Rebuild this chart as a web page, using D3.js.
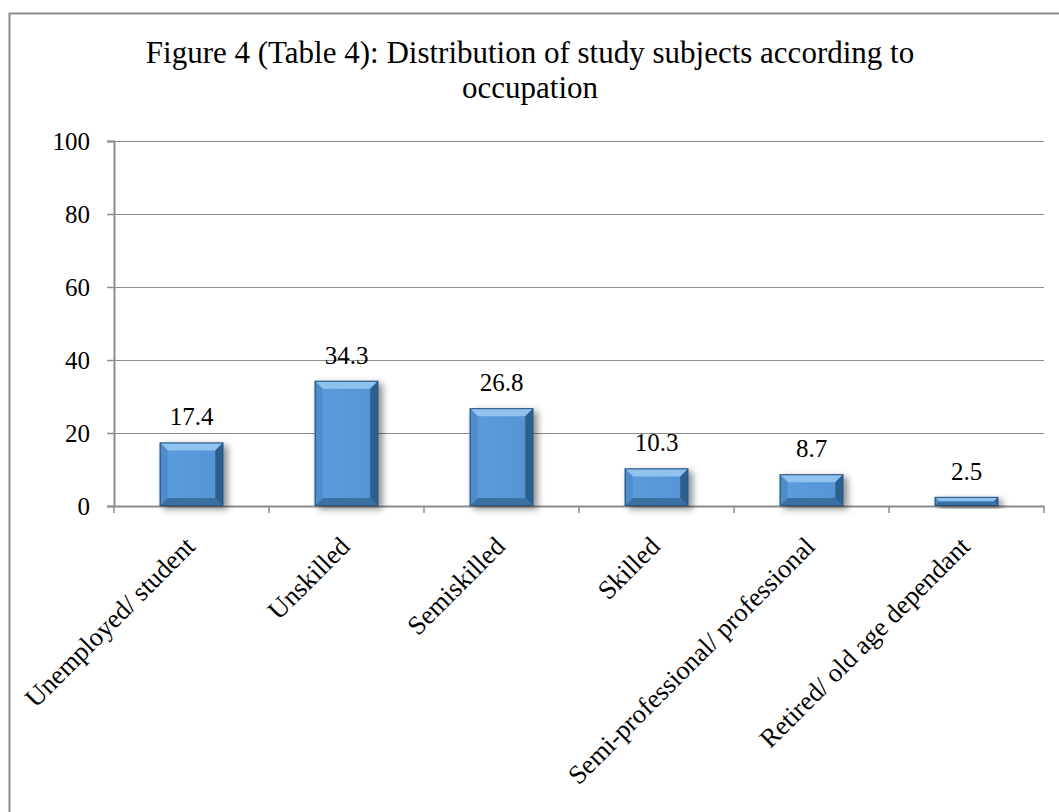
<!DOCTYPE html>
<html>
<head>
<meta charset="utf-8">
<script src="https://cdn.jsdelivr.net/npm/d3@7"></script>
<style>
  html, body { margin: 0; padding: 0; background: #fff; }
  svg { display: block; }
  text { font-family: "Liberation Serif", "Times New Roman", serif; fill: #000; }
</style>
</head>
<body>
<svg id="chart" width="1059" height="812"></svg>
<script>
// Occupation categories and percentage of study subjects
const categories = [
  "Unemployed/ student",
  "Unskilled",
  "Semiskilled",
  "Skilled",
  "Semi-professional/ professional",
  "Retired/ old age dependant"
];
const percentages = [17.4, 34.3, 26.8, 10.3, 8.7, 2.5];
const yTicks = [0, 20, 40, 60, 80, 100];
const titleLines = [
  "Figure 4 (Table 4): Distribution of study subjects according to",
  "occupation"
];

const svg = d3.select("#chart");
const W = 1059, H = 812;

// Chart area frame
svg.append("rect")
  .attr("x", 9.5).attr("y", 13.5)
  .attr("width", W + 20).attr("height", H + 20)
  .attr("fill", "#fff").attr("stroke", "#8c8c8c").attr("stroke-width", 2);

const plot = { left: 114, right: 1044, top: 141, bottom: 506 };

const x = d3.scaleBand()
  .domain(categories)
  .range([plot.left, plot.right])
  .paddingInner(0.59)
  .paddingOuter(0.295);
const xOuter = d3.scaleBand().domain(categories).range([plot.left, plot.right]);

const y = d3.scaleLinear().domain([0, 100]).range([plot.bottom, plot.top]);

// Drop shadow for bars
const defs = svg.append("defs");
const f = defs.append("filter").attr("id", "shadow")
  .attr("x", "-30%").attr("y", "-30%").attr("width", "170%").attr("height", "160%");
f.append("feDropShadow")
  .attr("dx", 4).attr("dy", 3).attr("stdDeviation", 3.5)
  .attr("flood-color", "#000").attr("flood-opacity", 0.45);

const faceGrad = defs.append("linearGradient").attr("id", "face")
  .attr("x1", 0).attr("x2", 1).attr("y1", 0).attr("y2", 0);
faceGrad.append("stop").attr("offset", "0%").attr("stop-color", "#5c9ddc");
faceGrad.append("stop").attr("offset", "100%").attr("stop-color", "#5494d4");

// Title
svg.append("g").selectAll("text").data(titleLines).join("text")
  .attr("x", 530).attr("y", (d, i) => 63 + i * 35)
  .attr("text-anchor", "middle")
  .attr("font-size", 31)
  .text(d => d);

// Horizontal gridlines
svg.append("g")
  .selectAll("line").data(yTicks.filter(t => t > 0)).join("line")
  .attr("x1", plot.left).attr("x2", plot.right)
  .attr("y1", d => Math.round(y(d)) + 0.5).attr("y2", d => Math.round(y(d)) + 0.5)
  .attr("stroke", "#8c8c8c").attr("stroke-width", 1.2);

// Y axis
const yAxis = svg.append("g")
  .attr("transform", `translate(${plot.left},0)`)
  .call(d3.axisLeft(y).tickValues(yTicks).tickSize(7).tickPadding(17).tickFormat(d3.format("d")));
yAxis.select(".domain").attr("stroke", "#8c8c8c").attr("stroke-width", 2);
yAxis.selectAll(".tick line").attr("stroke", "#8c8c8c").attr("stroke-width", 1.5);
yAxis.selectAll(".tick text")
  .attr("font-family", "Liberation Serif, Times New Roman, serif")
  .attr("font-size", 25).attr("fill", "#000");

// X axis
const xAxis = svg.append("g")
  .attr("transform", `translate(0,${plot.bottom})`)
  .call(d3.axisBottom(xOuter).tickSize(0).tickFormat(""));
xAxis.select(".domain").attr("stroke", "#8c8c8c").attr("stroke-width", 2);
xAxis.selectAll(".tick").remove();
// Tick marks at category boundaries
const bounds = categories.map(c => xOuter(c)).concat([plot.right]);
svg.append("g").selectAll("line").data(bounds).join("line")
  .attr("x1", d => d).attr("x2", d => d)
  .attr("y1", plot.bottom).attr("y2", plot.bottom + 7)
  .attr("stroke", "#8c8c8c").attr("stroke-width", 1.5);

// Bevelled bars
const bars = svg.append("g").selectAll("g").data(categories).join("g")
  .attr("filter", "url(#shadow)");

bars.each(function(c, i) {
  const g = d3.select(this);
  const x0 = x(c), x1 = x(c) + x.bandwidth();
  const y0 = y(percentages[i]), y1 = y(0);
  const b = Math.min(8, (y1 - y0) / 2.2);
  const pts = arr => arr.map(p => p.join(",")).join(" ");
  g.append("rect").attr("x", x0).attr("y", y0)
    .attr("width", x1 - x0).attr("height", y1 - y0).attr("fill", "url(#face)");
  // top bevel
  g.append("polygon").attr("points", pts([[x0, y0], [x1, y0], [x1 - b, y0 + b], [x0 + b, y0 + b]]))
    .attr("fill", "#8fc2ef");
  // left bevel
  g.append("polygon").attr("points", pts([[x0, y0], [x0 + b, y0 + b], [x0 + b, y1 - b], [x0, y1]]))
    .attr("fill", "#4f8ccb");
  // right bevel
  g.append("polygon").attr("points", pts([[x1, y0], [x1, y1], [x1 - b, y1 - b], [x1 - b, y0 + b]]))
    .attr("fill", "#2c5e8e");
  // bottom bevel
  g.append("polygon").attr("points", pts([[x0, y1], [x1, y1], [x1 - b, y1 - b], [x0 + b, y1 - b]]))
    .attr("fill", "#3a6fa3");
  g.append("rect").attr("x", x0 + 0.5).attr("y", y0 + 0.5)
    .attr("width", x1 - x0 - 1).attr("height", y1 - y0 - 1)
    .attr("fill", "none").attr("stroke", "#2a5078").attr("stroke-width", 1);
});

// Value labels
svg.append("g").selectAll("text").data(categories).join("text")
  .attr("x", c => x(c) + x.bandwidth() / 2)
  .attr("y", (c, i) => y(percentages[i]) - 17)
  .attr("text-anchor", "middle")
  .attr("font-size", 25)
  .text((c, i) => percentages[i]);

// Rotated category labels
svg.append("g").selectAll("text").data(categories).join("text")
  .attr("transform", c => `translate(${xOuter(c) + xOuter.bandwidth() / 2 + 5},${plot.bottom + 42}) rotate(-45)`)
  .attr("text-anchor", "end")
  .attr("font-size", 26.5)
  .text(c => c);
</script>
</body>
</html>
